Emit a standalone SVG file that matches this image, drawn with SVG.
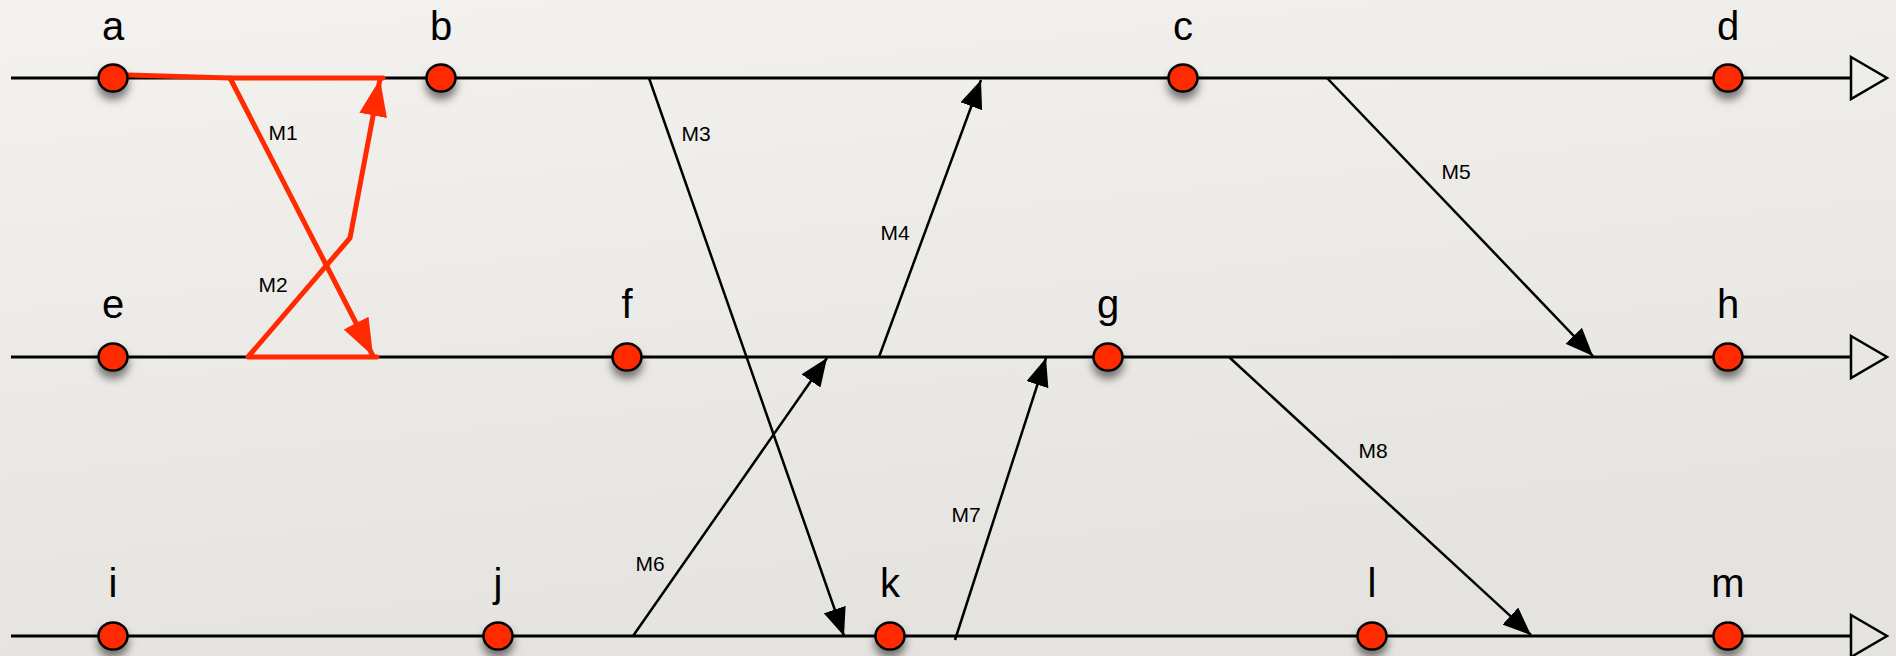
<svg xmlns="http://www.w3.org/2000/svg" width="1896" height="656" viewBox="0 0 1896 656">
  <defs>
    <linearGradient id="bg" x1="0" y1="0" x2="0.3" y2="1">
      <stop offset="0" stop-color="#f3f2ee"/>
      <stop offset="1" stop-color="#e5e3df"/>
    </linearGradient>
    <filter id="shadow" x="-100%" y="-100%" width="300%" height="300%">
      <feDropShadow dx="0" dy="7" stdDeviation="4" flood-color="#000" flood-opacity="0.5"/>
    </filter>
    <marker id="arrowBlack" markerUnits="userSpaceOnUse" markerWidth="28" markerHeight="23" refX="28" refY="11.5" orient="auto">
      <path d="M0,0 L28,11.5 L0,23 Z" fill="#000"/>
    </marker>
    <marker id="arrowRed" markerUnits="userSpaceOnUse" markerWidth="38" markerHeight="28" refX="37" refY="14" orient="auto">
      <path d="M0,0 L37,14 L0,28 Z" fill="#ff2a00"/>
    </marker>
  </defs>
  <style>
    .timeline { stroke: #000; stroke-width: 3; fill: none; }
    .timeEnd { stroke: #000; stroke-width: 2.5; fill: none; stroke-linejoin: miter; }
    .msg { stroke: #000; stroke-width: 2.5; fill: none; marker-end: url(#arrowBlack); }
    .red { stroke: #ff2a00; stroke-width: 5; fill: none; stroke-linejoin: round; stroke-linecap: round; }
    .redArrow { marker-end: url(#arrowRed); }
    .node ellipse { fill: #ff2a00; stroke: #000; stroke-width: 2.5; filter: url(#shadow); }
    .nlabel { font-family: "Liberation Sans", Arial, sans-serif; font-size: 40px; fill: #000; text-anchor: middle; }
    .mlabel { font-family: "Liberation Sans", Arial, sans-serif; font-size: 21px; fill: #000; text-anchor: middle; }
  </style>
  <rect x="0" y="0" width="1896" height="656" fill="url(#bg)"/>

  <g id="timelines">
    <line class="timeline" x1="11" y1="78" x2="1851" y2="78"/>
    <polygon class="timeEnd" points="1851,57 1887,78 1851,99"/>
    <line class="timeline" x1="11" y1="357" x2="1851" y2="357"/>
    <polygon class="timeEnd" points="1851,336 1887,357 1851,378"/>
    <line class="timeline" x1="11" y1="636" x2="1851" y2="636"/>
    <polygon class="timeEnd" points="1851,615 1887,636 1851,657"/>
  </g>

  <g id="connectors">
    <line class="msg" x1="649" y1="78" x2="844" y2="636"/>
    <line class="msg" x1="879" y1="357" x2="981" y2="80"/>
    <line class="msg" x1="1327" y1="78" x2="1593" y2="356"/>
    <line class="msg" x1="633" y1="636" x2="827" y2="358"/>
    <line class="msg" x1="955" y1="640" x2="1046" y2="358"/>
    <line class="msg" x1="1229" y1="357" x2="1531" y2="635"/>
    <polyline class="red" points="128,75 230,78 383,78"/>
    <line class="red redArrow" x1="230" y1="78" x2="373" y2="356"/>
    <polyline class="red redArrow" points="377,357 248,357 350,238 380,79"/>
  </g>

  <g id="message-labels">
    <text class="mlabel" x="283" y="140">M1</text>
    <text class="mlabel" x="273" y="292">M2</text>
    <text class="mlabel" x="696" y="141">M3</text>
    <text class="mlabel" x="895" y="240">M4</text>
    <text class="mlabel" x="1456" y="179">M5</text>
    <text class="mlabel" x="650" y="571">M6</text>
    <text class="mlabel" x="966" y="522">M7</text>
    <text class="mlabel" x="1373" y="458">M8</text>
  </g>

  <g id="node-a" class="node"><ellipse cx="113" cy="78" rx="14.5" ry="13.5"/><text class="nlabel" x="113" y="40">a</text></g>
  <g id="node-b" class="node"><ellipse cx="441" cy="78" rx="14.5" ry="13.5"/><text class="nlabel" x="441" y="40">b</text></g>
  <g id="node-c" class="node"><ellipse cx="1183" cy="78" rx="14.5" ry="13.5"/><text class="nlabel" x="1183" y="40">c</text></g>
  <g id="node-d" class="node"><ellipse cx="1728" cy="78" rx="14.5" ry="13.5"/><text class="nlabel" x="1728" y="40">d</text></g>
  <g id="node-e" class="node"><ellipse cx="113" cy="357" rx="14.5" ry="13.5"/><text class="nlabel" x="113" y="318">e</text></g>
  <g id="node-f" class="node"><ellipse cx="627" cy="357" rx="14.5" ry="13.5"/><text class="nlabel" x="627" y="318">f</text></g>
  <g id="node-g" class="node"><ellipse cx="1108" cy="357" rx="14.5" ry="13.5"/><text class="nlabel" x="1108" y="318">g</text></g>
  <g id="node-h" class="node"><ellipse cx="1728" cy="357" rx="14.5" ry="13.5"/><text class="nlabel" x="1728" y="318">h</text></g>
  <g id="node-i" class="node"><ellipse cx="113" cy="636" rx="14.5" ry="13.5"/><text class="nlabel" x="113" y="597">i</text></g>
  <g id="node-j" class="node"><ellipse cx="498" cy="636" rx="14.5" ry="13.5"/><text class="nlabel" x="498" y="597">j</text></g>
  <g id="node-k" class="node"><ellipse cx="890" cy="636" rx="14.5" ry="13.5"/><text class="nlabel" x="890" y="597">k</text></g>
  <g id="node-l" class="node"><ellipse cx="1372" cy="636" rx="14.5" ry="13.5"/><text class="nlabel" x="1372" y="597">l</text></g>
  <g id="node-m" class="node"><ellipse cx="1728" cy="636" rx="14.5" ry="13.5"/><text class="nlabel" x="1728" y="597">m</text></g>
</svg>
